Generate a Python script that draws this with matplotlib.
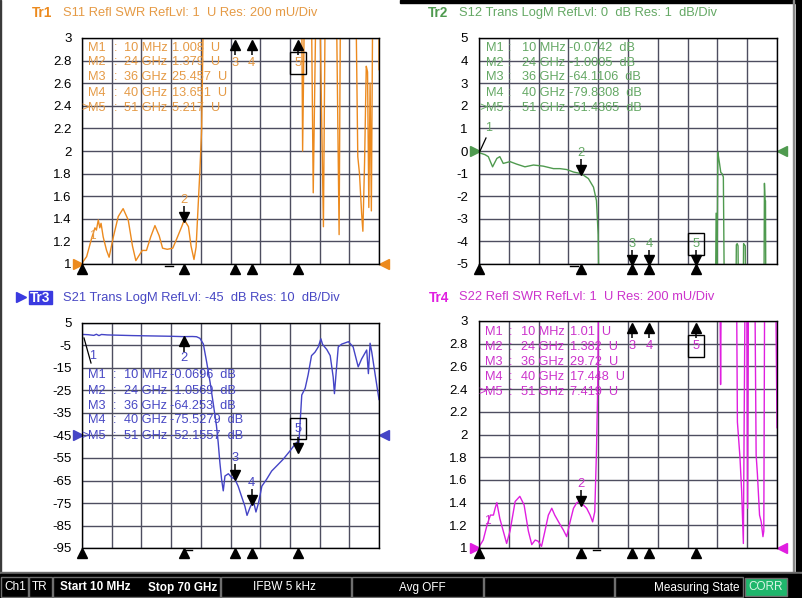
import matplotlib
matplotlib.use("Agg")
import matplotlib.pyplot as plt
import matplotlib.transforms as mtransforms
from matplotlib.patches import Rectangle

plt.rcParams["font.family"] = ["Liberation Sans", "DejaVu Sans"]

W, H = 803, 598

# ---------------- data (frequency in GHz) ----------------
mk_freq = [0.01, 24, 36, 40, 51]
mk_freq_text = ["10 MHz", "24 GHz", "36 GHz", "40 GHz", "51 GHz"]

s11_freq = [0.01, 1.1, 2.3, 3.06, 3.4, 3.85, 4.2, 4.5, 5.0, 5.8, 6.4, 7.4, 8.55, 9.7, 10.9,
            11.9, 12.7, 13.7, 14.2, 15.2, 16.2, 17.2, 18.2, 19.0, 20.1, 21.4, 22.3, 23.5, 24.0,
            24.3, 25.1, 25.7, 26.4, 26.9, 27.4, 27.8, 28.2, 28.6, 29.5, 36.0, 40.0, 51.0, 51.4,
            51.8, 52.0, 52.4, 53.0, 54.1, 54.5, 55.1, 55.6, 56.1, 56.9, 57.3, 58.5, 60.0, 60.6,
            60.9, 62.5, 64.3, 64.6, 65.0, 65.4, 65.9, 66.2, 66.6, 67.0, 67.3, 67.6, 67.9, 68.2,
            68.5, 69.0, 69.9, 70.0]
s11_swr = [1.008, 1.065, 1.23, 1.32, 1.30, 1.39, 1.32, 1.36, 1.24, 1.12, 1.06, 1.24, 1.42, 1.49,
           1.39, 1.16, 1.03, 1.09, 1.12, 1.12, 1.24, 1.34, 1.25, 1.14, 1.13, 1.14, 1.22, 1.33,
           1.379, 1.38, 1.33, 1.16, 1.04, 1.15, 1.53, 1.83, 2.19, 3.2, 9.0, 25.457, 13.651,
           5.217, 4.5, 3.2, 2.0, 3.2, 4.5, 3.2, 1.63, 3.2, 4.5, 3.2, 1.33, 3.2, 4.5, 3.2, 1.26,
           3.2, 4.5, 4.5, 3.2, 1.95, 1.8, 1.45, 1.29, 1.9, 2.75, 2.7, 1.5, 2.6, 1.47, 3.2, 4.5,
           4.5, 2.72]

s12_freq = [0.01, 1.4, 2.2, 3.2, 4.2, 4.9, 5.7, 7.3, 8.85, 10.8, 12.8, 15.1, 17.5, 19.0, 20.6,
            22.2, 24.0, 25.7, 26.9, 27.6, 28.0, 28.3, 30.0, 36.0, 40.0, 51.0, 55.5, 55.7, 55.85,
            56.1, 56.3, 56.5, 56.8, 57.1, 57.4, 57.7, 60.3, 60.45, 60.65, 60.85, 61.0, 62.0,
            62.15, 62.35, 62.55, 62.7, 66.9, 67.05, 67.2, 67.3, 67.4, 70.0]
s12_db = [-0.0742, -0.16, -0.25, -0.7, -0.33, -0.25, -0.55, -0.47, -0.58, -0.70, -0.62, -0.67,
          -0.78, -0.78, -0.82, -0.93, -1.0005, -1.22, -1.6, -2.2, -3.7, -8.0, -35.0, -64.1106,
          -79.8308, -51.4365, -8.0, -2.75, -8.0, -0.05, -0.3, -0.55, -0.95, -1.0, -1.15, -8.0,
          -8.0, -4.15, -4.1, -4.2, -8.0, -8.0, -4.1, -4.15, -4.2, -8.0, -8.0, -1.43, -2.2, -2.2,
          -8.0, -30.0]

s21_freq = [0.01, 1.5, 2.8, 3.4, 4.0, 4.6, 6.0, 8.0, 10.0, 12.0, 15.0, 18.0, 21.0, 24.0, 26.0,
            27.0, 27.8, 28.6, 29.4, 30.2, 30.9, 31.7, 32.1, 32.5, 32.9, 33.3, 33.7, 34.5, 35.3,
            36.0, 36.8, 37.6, 38.4, 38.9, 39.6, 40.0, 40.4, 41.0, 41.6, 42.4, 43.5, 44.7, 45.9,
            47.4, 49.0, 50.2, 50.6, 51.0, 51.8, 52.6, 53.3, 54.1, 54.9, 55.7, 56.3, 56.7, 57.7,
            58.5, 59.2, 59.5, 59.9, 60.4, 61.2, 62.8, 63.9, 65.1, 65.9, 67.1, 67.5, 67.9, 68.3,
            69.1, 70.0]
s21_db = [-0.0696, -0.2, -0.5, 0.0, -0.6, -0.1, -0.3, -0.4, -0.5, -0.6, -0.7, -0.8, -0.9,
          -1.0569, -1.0, -1.1, -1.8, -4.3, -12.5, -21.4, -30.3, -40.7, -48, -57, -64.4, -69.6,
          -63, -62, -63.7, -64.253, -67.5, -72, -76.5, -80.5, -77, -75.5279, -74, -79, -75,
          -67.5, -64.5, -60.8, -58.5, -55.6, -51.9, -48.9, -48, -52.1557, -27, -24, -18, -9.5,
          -8, -5.6, -2, -4.5, -6.8, -9.5, -19, -26.4, -17, -5.6, -4.4, -3.3, -5.6, -14.5, -11,
          -7, -17.5, -4, -8, -18, -29]

s22_freq = [0.01, 1.0, 1.95, 2.7, 3.4, 3.8, 4.2, 4.6, 4.9, 5.7, 6.5, 7.3, 8.5, 9.6, 10.6, 11.6,
            12.4, 13.2, 13.9, 14.7, 15.5, 16.3, 17.1, 17.8, 19.0, 19.8, 20.6, 21.4, 22.2, 23.0,
            23.7, 24.0, 24.5, 25.3, 26.1, 26.7, 27.2, 27.6, 27.9, 28.1, 29.0, 36.0, 40.0, 51.0,
            56.6, 56.75, 56.9, 60.5, 60.7, 61.3, 61.7, 62.1, 62.5, 62.9, 63.1, 63.3, 64.8, 65.1,
            65.4, 65.9, 66.3, 66.7, 66.9, 67.1, 69.7, 70.0]
s22_swr = [1.01, 1.07, 1.21, 1.29, 1.29, 1.35, 1.40, 1.32, 1.26, 1.15, 1.04, 1.15, 1.41, 1.455,
           1.38, 1.15, 1.03, 1.07, 1.06, 1.015, 1.15, 1.29, 1.35, 1.29, 1.21, 1.16, 1.10, 1.23,
           1.35, 1.40, 1.41, 1.382, 1.38, 1.35, 1.29, 1.23, 1.32, 1.85, 2.44, 3.3, 9.0, 29.72,
           17.448, 7.419, 3.3, 2.44, 3.3, 3.3, 2.11, 1.8, 1.5, 1.04, 3.3, 3.3, 1.35, 3.3, 3.3,
           1.82, 1.65, 1.29, 1.23, 1.10, 1.15, 3.3, 3.3, 2.06]

s11_read = ["1.008  U", "1.379  U", "25.457  U", "13.651  U", "5.217  U"]
s12_read = ["-0.0742  dB", "-1.0005  dB", "-64.1106  dB", "-79.8308  dB", "-51.4365  dB"]
s21_read = ["-0.0696  dB", "-1.0569  dB", "-64.253  dB", "-75.5279  dB", "-52.1557  dB"]
s22_read = ["1.01  U", "1.382  U", "29.72  U", "17.448  U", "7.419  U"]

swr_ticks = [1, 1.2, 1.4, 1.6, 1.8, 2, 2.2, 2.4, 2.6, 2.8, 3]
swr_labels = ["1", "1.2", "1.4", "1.6", "1.8", "2", "2.2", "2.4", "2.6", "2.8", "3"]
s12_ticks = [-5, -4, -3, -2, -1, 0, 1, 2, 3, 4, 5]
s21_ticks = [5, -5, -15, -25, -35, -45, -55, -65, -75, -85, -95]

c_or, c_or_t = "#ec8a1e", "#e59a45"
c_gr, c_gr_t = "#4f9a4f", "#64a864"
c_bl, c_bl_t = "#4444c6", "#4848c4"
c_mg, c_mg_t = "#e01ee0", "#cc33cc"

fig = plt.figure(figsize=(W / 100, H / 100), dpi=100)
fig.patch.set_facecolor("white")


def px_axes(x, y, w, h):
    return fig.add_axes([x / W, 1 - (y + h) / H, w / W, h / H])


def shift(tr, dx, dy):
    # dy in screen pixels, positive = down
    return tr + mtransforms.ScaledTranslation(dx / 100, -dy / 100, fig.dpi_scale_trans)


# frame + status bar
bg = px_axes(0, 0, W, H)
bg.set_xlim(0, W)
bg.set_ylim(H, 0)
bg.axis("off")
bg.add_patch(Rectangle((0, 0), 1.5, 573, color="#3a3a3a"))
bg.add_patch(Rectangle((400, 0), 403, 3, color="black"))
bg.add_patch(Rectangle((793, 0), 1.2, 573, color="#8a8a8a"))
bg.add_patch(Rectangle((796, 0), 7, H, color="black"))
bg.add_patch(Rectangle((0, 571.5), W, 2, color="#6c6c6c"))
bg.add_patch(Rectangle((0, 573.5), W, H - 573.5, color="black"))
for x0, x1 in [(1, 28), (29, 52), (53, 220), (221, 351), (352, 483), (484, 614), (615, 743)]:
    bg.add_patch(Rectangle((x0, 577), x1 - x0, 19.5, fc="black", ec="#6e6e6e", lw=1))
bg.add_patch(Rectangle((745, 578), 42, 18, fc="#1fb66c", ec="#6e6e6e", lw=1))
bar_y = 587.5
bg.text(15, bar_y, "Ch1", color="white", fontsize=8.5, ha="center", va="center")
bg.text(40, bar_y, "TR", color="white", fontsize=8.5, ha="center", va="center")
bg.text(95, bar_y, "Start 10 MHz", color="white", fontsize=8.5, ha="center", va="center",
        fontweight="bold")
bg.text(183, bar_y, "Stop 70 GHz", color="white", fontsize=8.5, ha="center", va="center",
        fontweight="bold")
bg.text(284, bar_y, "IFBW 5 kHz", color="white", fontsize=8.5, ha="center", va="center")
bg.text(422, bar_y, "Avg OFF", color="white", fontsize=8.5, ha="center", va="center")
bg.text(740, bar_y, "Measuring State", color="white", fontsize=8.5, ha="right", va="center")
bg.text(766, bar_y, "CORR", color="#d8f5e4", fontsize=8.5, ha="center", va="center")

grid_x = [0.01 + i * (70 - 0.01) / 10 for i in range(11)]


def make_panel(x, y, w, h, freq, vals, lo, hi, ticks, labels, color, ref, pad):
    ax = px_axes(x, y, w, h)
    ax.set_facecolor("white")
    ax.plot(freq, vals, color=color, lw=1.0)
    ax.set_xlim(0.01, 70)
    ax.set_ylim(lo, hi)
    ax.set_xticks(grid_x)
    ax.set_xticklabels([])
    ax.set_yticks(ticks, labels)
    ax.tick_params(length=0, pad=pad, labelsize=9.5, labelcolor="black")
    ax.grid(True, color="#4e4e60", lw=1)
    for sp in ax.spines.values():
        sp.set_color("black")
        sp.set_linewidth(1)
    # reference level arrows
    yref = mtransforms.blended_transform_factory(ax.transAxes, ax.transData)
    ax.plot([0], [ref], marker=">", ms=7, color=color, transform=shift(yref, -4.5, 0), clip_on=False)
    ax.plot([1], [ref], marker="<", ms=7, color=color, transform=shift(yref, 5, 0), clip_on=False)
    # stimulus triangles under the axis
    xb = mtransforms.blended_transform_factory(ax.transData, ax.transAxes)
    for f in mk_freq:
        ax.plot([f], [0], marker="^", ms=7, color="black", transform=shift(xb, 0, 5), clip_on=False)
    return ax


box = dict(boxstyle="square,pad=0.35", fc="none", ec="black", lw=1)


def marker_on_trace(ax, f, v, label, tcol, down=True, boxed=False):
    t = ax.transData
    s = -1 if down else 1
    ax.plot([f], [v], marker="v" if down else "^", ms=7, color="black",
            transform=shift(t, 0, 4 * s), clip_on=False)
    ax.plot([f], [v], marker="|", ms=5.5, mew=1.1, color="black",
            transform=shift(t, 0, 11 * s), clip_on=False)
    ax.text(f, v, label, transform=shift(t, 0, (23 if boxed else 21) * s), ha="center",
            va="center", color=tcol, fontsize=9.3, bbox=box if boxed else None)


def marker_off(ax, f, label, tcol, top=True, boxed=False):
    t = mtransforms.blended_transform_factory(ax.transData, ax.transAxes)
    if top:
        ax.plot([f], [1], marker="^", ms=7, color="black", transform=shift(t, 0, 6.5), clip_on=False)
        ax.plot([f], [1], marker="|", ms=5.5, mew=1.1, color="black", transform=shift(t, 0, 13), clip_on=False)
        ax.text(f, 1, label, transform=shift(t, 0, 25), ha="center", va="center", color=tcol,
                fontsize=9.3, bbox=box if boxed else None)
    else:
        ax.plot([f], [0], marker="v", ms=7, color="black", transform=shift(t, 0, -3.5), clip_on=False)
        ax.plot([f], [0], marker="|", ms=5.5, mew=1.1, color="black", transform=shift(t, 0, -9.5), clip_on=False)
        ax.text(f, 0, label, transform=shift(t, 0, -20), ha="center", va="center", color=tcol,
                fontsize=9.3, bbox=box if boxed else None)


# Tr1 S11
ax1 = make_panel(82, 38, 297, 226, s11_freq, s11_swr, 1, 3, swr_ticks, swr_labels, c_or, 1, 7.5)
marker_on_trace(ax1, mk_freq[1], s11_swr[28], "2", c_or_t)
marker_off(ax1, 36, "3", c_or_t)
marker_off(ax1, 40, "4", c_or_t)
marker_off(ax1, 51, "5", c_or_t, boxed=True)

# Tr2 S12
ax2 = make_panel(479, 38, 298, 226, s12_freq, s12_db, -5, 5, s12_ticks,
                 [str(t) for t in s12_ticks], c_gr, 0, 8)
marker_on_trace(ax2, mk_freq[1], s12_db[16], "2", c_gr_t)
marker_off(ax2, 36, "3", c_gr_t, top=False)
marker_off(ax2, 40, "4", c_gr_t, top=False)
marker_off(ax2, 51, "5", c_gr_t, top=False, boxed=True)

# Tr3 S21
ax3 = make_panel(82, 323, 297, 225, s21_freq, s21_db, -95, 5, s21_ticks[::-1],
                 [str(t) for t in s21_ticks[::-1]], c_bl, -45, 7.5)
marker_on_trace(ax3, mk_freq[1], s21_db[13], "2", c_bl_t, down=False)
marker_on_trace(ax3, 36, s21_db[29], "3", c_bl_t)
marker_on_trace(ax3, 40, s21_db[35], "4", c_bl_t)
marker_on_trace(ax3, 51, s21_db[47], "5", c_bl_t, boxed=True)

# Tr4 S22
ax4 = make_panel(479, 321, 298, 227, s22_freq, s22_swr, 1, 3, swr_ticks, swr_labels, c_mg, 1, 8)
marker_on_trace(ax4, mk_freq[1], s22_swr[31], "2", c_mg_t)
marker_off(ax4, 36, "3", c_mg_t)
marker_off(ax4, 40, "4", c_mg_t)
marker_off(ax4, 51, "5", c_mg_t, boxed=True)

# overlay for titles and readouts (pixel coordinates)
ov = px_axes(0, 0, W, H)
ov.set_xlim(0, W)
ov.set_ylim(H, 0)
ov.axis("off")
ov.patch.set_alpha(0)

ov.text(32, 13, "Tr1", color=c_or, fontsize=9.8, fontweight="bold", va="center")
ov.text(63, 13, "S11 Refl SWR RefLvl: 1  U Res: 200 mU/Div", color=c_or_t, fontsize=9.3, va="center")
ov.text(428, 13, "Tr2", color=c_gr, fontsize=9.8, fontweight="bold", va="center")
ov.text(459, 13, "S12 Trans LogM RefLvl: 0  dB Res: 1  dB/Div", color=c_gr_t, fontsize=9.3, va="center")
ov.plot([21], [297], marker=">", ms=7, color="#3a3ae0")
ov.add_patch(Rectangle((29, 290.5), 23, 13.5, color="#3a3ae0"))
ov.text(30, 297.5, "Tr3", color="white", fontsize=9.8, fontweight="bold", va="center")
ov.text(63, 297.5, "S21 Trans LogM RefLvl: -45  dB Res: 10  dB/Div", color=c_bl_t, fontsize=9.3,
        va="center")
ov.text(429, 297.5, "Tr4", color=c_mg, fontsize=9.8, fontweight="bold", va="center")
ov.text(459, 297.5, "S22 Refl SWR RefLvl: 1  U Res: 200 mU/Div", color=c_mg_t, fontsize=9.3,
        va="center")


def readout(xs, ys, values, col):
    for i in range(5):
        name = "M%d" % (i + 1)
        ov.text(xs[0], ys[i], name, color=col, fontsize=9.2, va="center")
        ov.text(xs[1], ys[i], ":", color=col, fontsize=9.2, va="center")
        ov.text(xs[2], ys[i], mk_freq_text[i], color=col, fontsize=9.2, va="center")
        ov.text(xs[3], ys[i], values[i], color=col, fontsize=9.2, va="center")
    ov.text(xs[0] - 7, ys[4], ">", color=col, fontsize=9.2, va="center")


readout([88, 114, 124, 172], [48, 62, 77, 93, 108], s11_read, c_or_t)
readout([486, 508, 522, 569], [48, 63, 77, 93, 108], s12_read, c_gr_t)
readout([88, 113, 124, 170], [375, 391, 406, 420, 436], s21_read, c_bl_t)
readout([485, 509, 521, 570], [332, 347, 362, 377, 392], s22_read, c_mg_t)

# marker 1 labels
ov.text(92, 236, "1", color=c_or_t, fontsize=8.5, ha="center", va="center")
ov.text(489, 128, "1", color=c_gr_t, fontsize=9, ha="center", va="center")
ov.plot([480, 486], [151, 138], color="black", lw=0.9)
ov.text(93, 356, "1", color=c_bl_t, fontsize=9, ha="center", va="center")
ov.plot([84, 91], [338, 363], color="black", lw=0.9)
ov.text(487, 521, "1", color=c_mg_t, fontsize=8.5, ha="center", va="center")

# small stimulus dashes below the grids
ov.plot([165, 173], [265.5, 265.5], color="black", lw=1)
ov.plot([570, 578], [265.5, 265.5], color="black", lw=1)
ov.plot([185, 192], [550, 550], color="black", lw=1)
ov.plot([593, 600], [550, 550], color="black", lw=1)

fig.savefig("out.png", dpi=100, facecolor="white")
